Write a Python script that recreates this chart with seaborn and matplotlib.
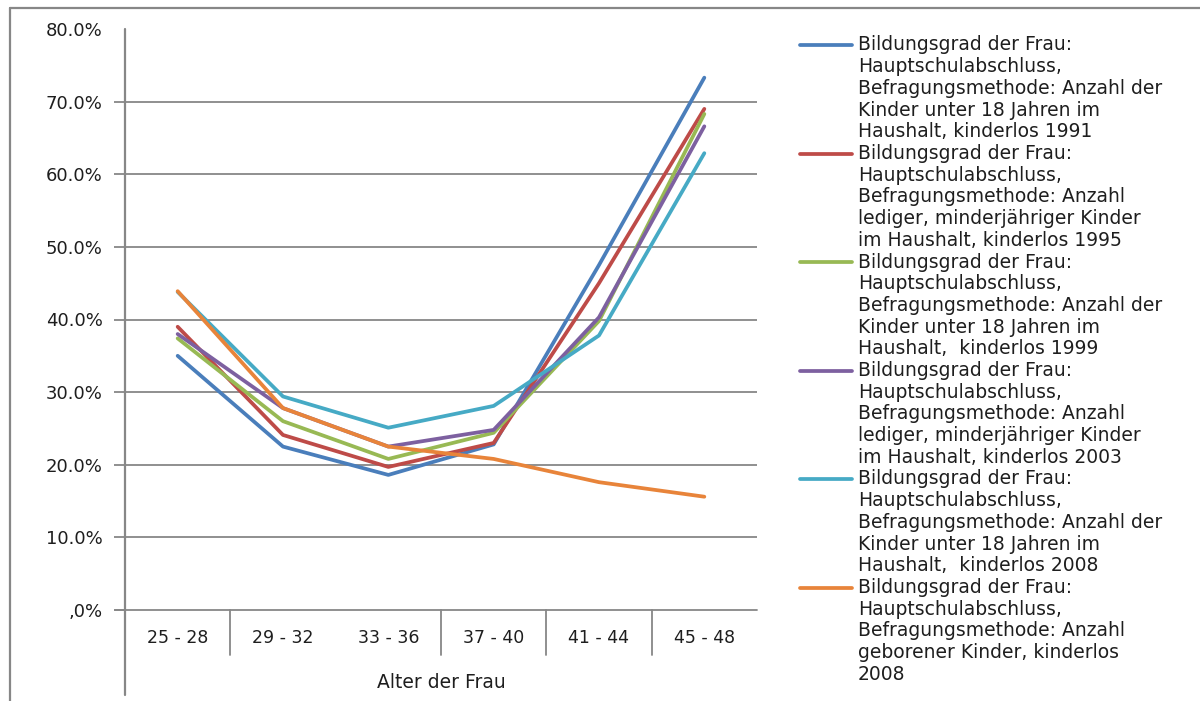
import numpy as np
import pandas as pd
import matplotlib
matplotlib.use("Agg")
import matplotlib.pyplot as plt
from matplotlib.lines import Line2D
import seaborn as sns

# Age groups of the woman
categories = ["25 - 28", "29 - 32", "33 - 36", "37 - 40", "41 - 44", "45 - 48"]

# Share of childless women (%) per survey
s1991 = [35.0, 22.5, 18.6, 22.8, 47.5, 73.3]
s1995 = [39.0, 24.1, 19.7, 23.0, 45.0, 69.0]
s1999 = [37.4, 26.0, 20.8, 24.4, 39.8, 68.3]
s2003 = [38.0, 27.8, 22.5, 24.8, 40.3, 66.6]
s2008 = [43.8, 29.4, 25.1, 28.1, 37.8, 62.9]
s2008_geb = [43.9, 27.8, 22.5, 20.8, 17.6, 15.6]

series_labels = [
    "Bildungsgrad der Frau:\nHauptschulabschluss,\nBefragungsmethode: Anzahl der\nKinder unter 18 Jahren im\nHaushalt, kinderlos 1991",
    "Bildungsgrad der Frau:\nHauptschulabschluss,\nBefragungsmethode: Anzahl\nlediger, minderjähriger Kinder\nim Haushalt, kinderlos 1995",
    "Bildungsgrad der Frau:\nHauptschulabschluss,\nBefragungsmethode: Anzahl der\nKinder unter 18 Jahren im\nHaushalt,  kinderlos 1999",
    "Bildungsgrad der Frau:\nHauptschulabschluss,\nBefragungsmethode: Anzahl\nlediger, minderjähriger Kinder\nim Haushalt, kinderlos 2003",
    "Bildungsgrad der Frau:\nHauptschulabschluss,\nBefragungsmethode: Anzahl der\nKinder unter 18 Jahren im\nHaushalt,  kinderlos 2008",
    "Bildungsgrad der Frau:\nHauptschulabschluss,\nBefragungsmethode: Anzahl\ngeborener Kinder, kinderlos\n2008",
]
all_series = [s1991, s1995, s1999, s2003, s2008, s2008_geb]

y_ticks = [0, 10, 20, 30, 40, 50, 60, 70, 80]
y_tick_labels = [",0%", "10.0%", "20.0%", "30.0%", "40.0%", "50.0%", "60.0%", "70.0%", "80.0%"]
x_title = "Alter der Frau"

colors = ["#4A7EBB", "#BE4B48", "#98B954", "#7D60A0", "#46AAC5", "#E8843A"]

rows = []
for lab, vals in zip(series_labels, all_series):
    for i, (c, v) in enumerate(zip(categories, vals)):
        rows.append({"pos": i, "Alter": c, "Anteil": v, "Serie": lab})
df = pd.DataFrame(rows)

sns.set_theme(style="white")
plt.rcParams["font.family"] = ["DejaVu Sans"]

W, H = 1200, 701
fig = plt.figure(figsize=(W / 100, H / 100), dpi=100)
ax_l, ax_r, ax_t, ax_b = 125, 757, 29, 610
ax = fig.add_axes([ax_l / W, 1 - ax_b / H, (ax_r - ax_l) / W, (ax_b - ax_t) / H])

grid_c = "#878787"
text_c = "#1e1e1e"

sns.lineplot(data=df, x="pos", y="Anteil", hue="Serie", palette=colors,
             hue_order=series_labels, linewidth=2.7, legend=False, ax=ax,
             sort=False)

ax.set_xlim(-0.5, len(categories) - 0.5)
ax.set_ylim(0, 80)
ax.set_xlabel("")
ax.set_ylabel("")

# y axis: ticks, labels, horizontal gridlines
ax.set_yticks(y_ticks)
ax.set_yticklabels(y_tick_labels, fontsize=13, color=text_c)
ax.yaxis.grid(True, color=grid_c, linewidth=1.3)
ax.get_ygridlines()[-1].set_visible(False)
ax.get_ygridlines()[0].set_visible(False)
ax.tick_params(axis="y", direction="out", length=8, width=1.3, color=grid_c, pad=8, left=True)
ax.yaxis.get_major_ticks()[-1].tick1line.set_visible(False)

# x axis: category labels below, no tick marks
ax.set_xticks(range(len(categories)))
ax.set_xticklabels(categories, fontsize=12.5, color=text_c)
ax.tick_params(axis="x", length=0, pad=14)

for side in ["top", "right", "bottom", "left"]:
    ax.spines[side].set_visible(False)

# axis lines drawn to extend past the plot area like the category frame
yfrac_bottom = -(695 - ax_b) / (ax_b - ax_t)
ax.plot([0, 0], [yfrac_bottom, 1.0], transform=ax.transAxes, color=grid_c,
        linewidth=1.6, clip_on=False, zorder=5)
ax.plot([-10 / (ax_r - ax_l), 1.0], [0, 0], transform=ax.transAxes, color=grid_c,
        linewidth=1.3, clip_on=False, zorder=1)

# category separators below the axis
sep_len = -(655 - ax_b) / (ax_b - ax_t)
for b in [0.5, 2.5, 3.5, 4.5]:
    xf = (b + 0.5) / len(categories)
    ax.plot([xf, xf], [sep_len, 0], transform=ax.transAxes, color=grid_c,
            linewidth=1.3, clip_on=False)

fig.text((ax_l + ax_r) / 2 / W, 1 - 683 / H, x_title, ha="center", va="center",
         fontsize=13.5, color=text_c)

# chart frame
fig.add_artist(Line2D([10 / W, 10 / W], [0, 1 - 8 / H], color=grid_c, linewidth=1.6))
fig.add_artist(Line2D([10 / W, 1], [1 - 8 / H, 1 - 8 / H], color=grid_c, linewidth=1.6))

# legend on the right, handle level with the first text line
line_h = 21.7
y0 = 45
for k, (lab, col) in enumerate(zip(series_labels, colors)):
    yy = y0 + k * 5 * line_h
    fig.add_artist(Line2D([800 / W, 852 / W], [1 - yy / H, 1 - yy / H],
                          color=col, linewidth=2.7))
    for j, txt in enumerate(lab.split("\n")):
        fig.text(858 / W, 1 - (yy + j * line_h) / H, txt, ha="left", va="center",
                 fontsize=13.5, color=text_c)

fig.savefig("out.png", dpi=100)
